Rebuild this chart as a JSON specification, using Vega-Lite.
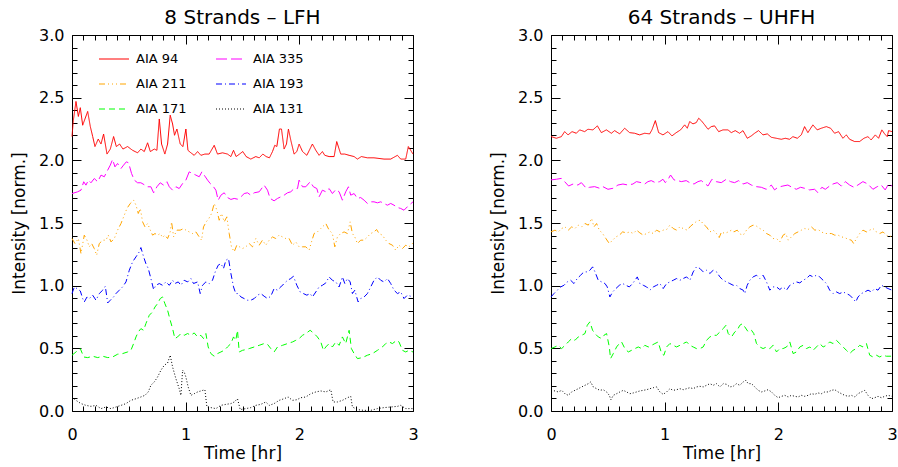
{
"$schema":"https://vega.github.io/schema/vega-lite/v6.json",
"background":"white",
"padding":{"left":10,"top":7,"right":4,"bottom":2},
"spacing":70,
"config":{"view":{"stroke":"black","strokeWidth":1},"font":"DejaVu Sans",
"title":{"fontSize":20,"fontWeight":"normal","color":"black","offset":-1,"anchor":"middle"},
"axis":{"domain":false,"grid":false,"tickColor":"black","tickWidth":1,"labelColor":"black","titleColor":"black","labelFontSize":16,"titleFontSize":17,"titleFontWeight":"normal","labelOverlap":false,"labelFlush":false}},
"datasets":{
"L":[
{"s":"AIA 94","t":0,"v":2.19},{"s":"AIA 94","t":0.012,"v":2.32},{"s":"AIA 94","t":0.035,"v":2.47},{"s":"AIA 94","t":0.056,"v":2.35},{"s":"AIA 94","t":0.073,"v":2.42},{"s":"AIA 94","t":0.094,"v":2.28},{"s":"AIA 94","t":0.114,"v":2.33},{"s":"AIA 94","t":0.138,"v":2.39},{"s":"AIA 94","t":0.161,"v":2.27},{"s":"AIA 94","t":0.182,"v":2.19},{"s":"AIA 94","t":0.202,"v":2.11},{"s":"AIA 94","t":0.231,"v":2.17},{"s":"AIA 94","t":0.255,"v":2.13},{"s":"AIA 94","t":0.278,"v":2.21},{"s":"AIA 94","t":0.308,"v":2.05},{"s":"AIA 94","t":0.337,"v":2.09},{"s":"AIA 94","t":0.366,"v":2.19},{"s":"AIA 94","t":0.39,"v":2.11},{"s":"AIA 94","t":0.419,"v":2.13},{"s":"AIA 94","t":0.448,"v":2.09},{"s":"AIA 94","t":0.489,"v":2.11},{"s":"AIA 94","t":0.533,"v":2.08},{"s":"AIA 94","t":0.577,"v":2.06},{"s":"AIA 94","t":0.606,"v":2.09},{"s":"AIA 94","t":0.636,"v":2.07},{"s":"AIA 94","t":0.665,"v":2.14},{"s":"AIA 94","t":0.689,"v":2.07},{"s":"AIA 94","t":0.724,"v":2.09},{"s":"AIA 94","t":0.747,"v":2.08},{"s":"AIA 94","t":0.768,"v":2.33},{"s":"AIA 94","t":0.788,"v":2.13},{"s":"AIA 94","t":0.817,"v":2.05},{"s":"AIA 94","t":0.841,"v":2.13},{"s":"AIA 94","t":0.864,"v":2.36},{"s":"AIA 94","t":0.885,"v":2.29},{"s":"AIA 94","t":0.902,"v":2.2},{"s":"AIA 94","t":0.923,"v":2.25},{"s":"AIA 94","t":0.952,"v":2.13},{"s":"AIA 94","t":0.976,"v":2.11},{"s":"AIA 94","t":1.002,"v":2.25},{"s":"AIA 94","t":1.02,"v":2.08},{"s":"AIA 94","t":1.046,"v":2.06},{"s":"AIA 94","t":1.075,"v":2.04},{"s":"AIA 94","t":1.105,"v":2.07},{"s":"AIA 94","t":1.134,"v":2.04},{"s":"AIA 94","t":1.169,"v":2.05},{"s":"AIA 94","t":1.207,"v":2.05},{"s":"AIA 94","t":1.251,"v":2.12},{"s":"AIA 94","t":1.28,"v":2.05},{"s":"AIA 94","t":1.324,"v":2.06},{"s":"AIA 94","t":1.368,"v":2.05},{"s":"AIA 94","t":1.398,"v":2.03},{"s":"AIA 94","t":1.421,"v":2.08},{"s":"AIA 94","t":1.444,"v":2.03},{"s":"AIA 94","t":1.474,"v":2.05},{"s":"AIA 94","t":1.503,"v":2.07},{"s":"AIA 94","t":1.532,"v":2.03},{"s":"AIA 94","t":1.573,"v":2.01},{"s":"AIA 94","t":1.617,"v":2.03},{"s":"AIA 94","t":1.647,"v":2.02},{"s":"AIA 94","t":1.679,"v":2.05},{"s":"AIA 94","t":1.708,"v":2.03},{"s":"AIA 94","t":1.737,"v":2.02},{"s":"AIA 94","t":1.764,"v":2.07},{"s":"AIA 94","t":1.784,"v":2.12},{"s":"AIA 94","t":1.802,"v":2.11},{"s":"AIA 94","t":1.825,"v":2.25},{"s":"AIA 94","t":1.843,"v":2.25},{"s":"AIA 94","t":1.866,"v":2.09},{"s":"AIA 94","t":1.887,"v":2.13},{"s":"AIA 94","t":1.904,"v":2.25},{"s":"AIA 94","t":1.925,"v":2.16},{"s":"AIA 94","t":1.954,"v":2.05},{"s":"AIA 94","t":1.978,"v":2.07},{"s":"AIA 94","t":1.998,"v":2.13},{"s":"AIA 94","t":2.028,"v":2.07},{"s":"AIA 94","t":2.066,"v":2.04},{"s":"AIA 94","t":2.115,"v":2.13},{"s":"AIA 94","t":2.145,"v":2.08},{"s":"AIA 94","t":2.174,"v":2.04},{"s":"AIA 94","t":2.203,"v":2.07},{"s":"AIA 94","t":2.224,"v":2.04},{"s":"AIA 94","t":2.262,"v":2.03},{"s":"AIA 94","t":2.306,"v":2.03},{"s":"AIA 94","t":2.329,"v":2.15},{"s":"AIA 94","t":2.364,"v":2.05},{"s":"AIA 94","t":2.4,"v":2.05},{"s":"AIA 94","t":2.438,"v":2.04},{"s":"AIA 94","t":2.482,"v":2.03},{"s":"AIA 94","t":2.511,"v":2.01},{"s":"AIA 94","t":2.546,"v":2.03},{"s":"AIA 94","t":2.599,"v":2.02},{"s":"AIA 94","t":2.657,"v":2.02},{"s":"AIA 94","t":2.745,"v":2.01},{"s":"AIA 94","t":2.804,"v":2.01},{"s":"AIA 94","t":2.863,"v":2.04},{"s":"AIA 94","t":2.892,"v":2.01},{"s":"AIA 94","t":2.936,"v":2.01},{"s":"AIA 94","t":2.959,"v":2.11},{"s":"AIA 94","t":3,"v":2.05},
{"s":"AIA 335","t":0,"v":1.735},{"s":"AIA 335","t":0.05,"v":1.749},{"s":"AIA 335","t":0.079,"v":1.762},{"s":"AIA 335","t":0.103,"v":1.829},{"s":"AIA 335","t":0.123,"v":1.802},{"s":"AIA 335","t":0.144,"v":1.842},{"s":"AIA 335","t":0.167,"v":1.821},{"s":"AIA 335","t":0.196,"v":1.855},{"s":"AIA 335","t":0.226,"v":1.829},{"s":"AIA 335","t":0.255,"v":1.882},{"s":"AIA 335","t":0.284,"v":1.869},{"s":"AIA 335","t":0.314,"v":1.922},{"s":"AIA 335","t":0.337,"v":1.962},{"s":"AIA 335","t":0.357,"v":2.007},{"s":"AIA 335","t":0.378,"v":1.948},{"s":"AIA 335","t":0.401,"v":1.975},{"s":"AIA 335","t":0.431,"v":1.935},{"s":"AIA 335","t":0.454,"v":1.962},{"s":"AIA 335","t":0.478,"v":1.988},{"s":"AIA 335","t":0.498,"v":1.98},{"s":"AIA 335","t":0.524,"v":1.895},{"s":"AIA 335","t":0.548,"v":1.842},{"s":"AIA 335","t":0.577,"v":1.821},{"s":"AIA 335","t":0.606,"v":1.821},{"s":"AIA 335","t":0.642,"v":1.802},{"s":"AIA 335","t":0.665,"v":1.789},{"s":"AIA 335","t":0.694,"v":1.789},{"s":"AIA 335","t":0.718,"v":1.741},{"s":"AIA 335","t":0.747,"v":1.789},{"s":"AIA 335","t":0.776,"v":1.821},{"s":"AIA 335","t":0.806,"v":1.802},{"s":"AIA 335","t":0.835,"v":1.829},{"s":"AIA 335","t":0.856,"v":1.789},{"s":"AIA 335","t":0.885,"v":1.762},{"s":"AIA 335","t":0.914,"v":1.789},{"s":"AIA 335","t":0.943,"v":1.775},{"s":"AIA 335","t":0.973,"v":1.815},{"s":"AIA 335","t":1.002,"v":1.842},{"s":"AIA 335","t":1.031,"v":1.908},{"s":"AIA 335","t":1.061,"v":1.895},{"s":"AIA 335","t":1.09,"v":1.882},{"s":"AIA 335","t":1.119,"v":1.869},{"s":"AIA 335","t":1.143,"v":1.908},{"s":"AIA 335","t":1.169,"v":1.874},{"s":"AIA 335","t":1.193,"v":1.842},{"s":"AIA 335","t":1.216,"v":1.815},{"s":"AIA 335","t":1.245,"v":1.789},{"s":"AIA 335","t":1.266,"v":1.762},{"s":"AIA 335","t":1.286,"v":1.682},{"s":"AIA 335","t":1.31,"v":1.722},{"s":"AIA 335","t":1.339,"v":1.741},{"s":"AIA 335","t":1.368,"v":1.703},{"s":"AIA 335","t":1.398,"v":1.688},{"s":"AIA 335","t":1.427,"v":1.696},{"s":"AIA 335","t":1.456,"v":1.69},{"s":"AIA 335","t":1.486,"v":1.709},{"s":"AIA 335","t":1.515,"v":1.735},{"s":"AIA 335","t":1.544,"v":1.741},{"s":"AIA 335","t":1.573,"v":1.722},{"s":"AIA 335","t":1.603,"v":1.741},{"s":"AIA 335","t":1.647,"v":1.749},{"s":"AIA 335","t":1.69,"v":1.802},{"s":"AIA 335","t":1.72,"v":1.762},{"s":"AIA 335","t":1.743,"v":1.696},{"s":"AIA 335","t":1.778,"v":1.677},{"s":"AIA 335","t":1.808,"v":1.696},{"s":"AIA 335","t":1.837,"v":1.709},{"s":"AIA 335","t":1.866,"v":1.722},{"s":"AIA 335","t":1.896,"v":1.741},{"s":"AIA 335","t":1.925,"v":1.749},{"s":"AIA 335","t":1.954,"v":1.775},{"s":"AIA 335","t":1.984,"v":1.775},{"s":"AIA 335","t":1.998,"v":1.842},{"s":"AIA 335","t":2.028,"v":1.789},{"s":"AIA 335","t":2.057,"v":1.789},{"s":"AIA 335","t":2.095,"v":1.829},{"s":"AIA 335","t":2.124,"v":1.789},{"s":"AIA 335","t":2.154,"v":1.775},{"s":"AIA 335","t":2.174,"v":1.709},{"s":"AIA 335","t":2.203,"v":1.762},{"s":"AIA 335","t":2.233,"v":1.749},{"s":"AIA 335","t":2.262,"v":1.775},{"s":"AIA 335","t":2.291,"v":1.735},{"s":"AIA 335","t":2.321,"v":1.767},{"s":"AIA 335","t":2.35,"v":1.749},{"s":"AIA 335","t":2.379,"v":1.682},{"s":"AIA 335","t":2.408,"v":1.749},{"s":"AIA 335","t":2.432,"v":1.789},{"s":"AIA 335","t":2.452,"v":1.722},{"s":"AIA 335","t":2.482,"v":1.735},{"s":"AIA 335","t":2.511,"v":1.696},{"s":"AIA 335","t":2.54,"v":1.703},{"s":"AIA 335","t":2.57,"v":1.682},{"s":"AIA 335","t":2.599,"v":1.656},{"s":"AIA 335","t":2.628,"v":1.669},{"s":"AIA 335","t":2.657,"v":1.669},{"s":"AIA 335","t":2.687,"v":1.661},{"s":"AIA 335","t":2.716,"v":1.669},{"s":"AIA 335","t":2.745,"v":1.656},{"s":"AIA 335","t":2.775,"v":1.642},{"s":"AIA 335","t":2.804,"v":1.656},{"s":"AIA 335","t":2.833,"v":1.642},{"s":"AIA 335","t":2.863,"v":1.624},{"s":"AIA 335","t":2.892,"v":1.616},{"s":"AIA 335","t":2.921,"v":1.602},{"s":"AIA 335","t":2.95,"v":1.629},{"s":"AIA 335","t":3,"v":1.669},
{"s":"AIA 211","t":0,"v":1.376},{"s":"AIA 211","t":0.026,"v":1.336},{"s":"AIA 211","t":0.056,"v":1.376},{"s":"AIA 211","t":0.079,"v":1.256},{"s":"AIA 211","t":0.108,"v":1.403},{"s":"AIA 211","t":0.132,"v":1.363},{"s":"AIA 211","t":0.152,"v":1.31},{"s":"AIA 211","t":0.173,"v":1.336},{"s":"AIA 211","t":0.196,"v":1.296},{"s":"AIA 211","t":0.217,"v":1.243},{"s":"AIA 211","t":0.24,"v":1.336},{"s":"AIA 211","t":0.27,"v":1.363},{"s":"AIA 211","t":0.299,"v":1.363},{"s":"AIA 211","t":0.319,"v":1.403},{"s":"AIA 211","t":0.343,"v":1.349},{"s":"AIA 211","t":0.372,"v":1.376},{"s":"AIA 211","t":0.401,"v":1.443},{"s":"AIA 211","t":0.431,"v":1.496},{"s":"AIA 211","t":0.46,"v":1.562},{"s":"AIA 211","t":0.483,"v":1.616},{"s":"AIA 211","t":0.513,"v":1.656},{"s":"AIA 211","t":0.542,"v":1.682},{"s":"AIA 211","t":0.563,"v":1.642},{"s":"AIA 211","t":0.583,"v":1.576},{"s":"AIA 211","t":0.601,"v":1.616},{"s":"AIA 211","t":0.621,"v":1.509},{"s":"AIA 211","t":0.642,"v":1.469},{"s":"AIA 211","t":0.665,"v":1.496},{"s":"AIA 211","t":0.689,"v":1.443},{"s":"AIA 211","t":0.709,"v":1.403},{"s":"AIA 211","t":0.73,"v":1.416},{"s":"AIA 211","t":0.753,"v":1.403},{"s":"AIA 211","t":0.776,"v":1.416},{"s":"AIA 211","t":0.797,"v":1.384},{"s":"AIA 211","t":0.817,"v":1.403},{"s":"AIA 211","t":0.841,"v":1.376},{"s":"AIA 211","t":0.864,"v":1.429},{"s":"AIA 211","t":0.876,"v":1.509},{"s":"AIA 211","t":0.894,"v":1.389},{"s":"AIA 211","t":0.923,"v":1.443},{"s":"AIA 211","t":0.952,"v":1.443},{"s":"AIA 211","t":0.982,"v":1.456},{"s":"AIA 211","t":1.002,"v":1.443},{"s":"AIA 211","t":1.031,"v":1.429},{"s":"AIA 211","t":1.061,"v":1.416},{"s":"AIA 211","t":1.09,"v":1.429},{"s":"AIA 211","t":1.119,"v":1.389},{"s":"AIA 211","t":1.14,"v":1.363},{"s":"AIA 211","t":1.157,"v":1.469},{"s":"AIA 211","t":1.181,"v":1.509},{"s":"AIA 211","t":1.204,"v":1.536},{"s":"AIA 211","t":1.228,"v":1.576},{"s":"AIA 211","t":1.251,"v":1.656},{"s":"AIA 211","t":1.275,"v":1.602},{"s":"AIA 211","t":1.295,"v":1.522},{"s":"AIA 211","t":1.316,"v":1.576},{"s":"AIA 211","t":1.339,"v":1.509},{"s":"AIA 211","t":1.362,"v":1.549},{"s":"AIA 211","t":1.383,"v":1.416},{"s":"AIA 211","t":1.403,"v":1.31},{"s":"AIA 211","t":1.427,"v":1.27},{"s":"AIA 211","t":1.45,"v":1.323},{"s":"AIA 211","t":1.474,"v":1.31},{"s":"AIA 211","t":1.5,"v":1.296},{"s":"AIA 211","t":1.529,"v":1.31},{"s":"AIA 211","t":1.559,"v":1.336},{"s":"AIA 211","t":1.588,"v":1.31},{"s":"AIA 211","t":1.617,"v":1.376},{"s":"AIA 211","t":1.647,"v":1.323},{"s":"AIA 211","t":1.676,"v":1.363},{"s":"AIA 211","t":1.705,"v":1.323},{"s":"AIA 211","t":1.735,"v":1.363},{"s":"AIA 211","t":1.764,"v":1.389},{"s":"AIA 211","t":1.793,"v":1.376},{"s":"AIA 211","t":1.822,"v":1.403},{"s":"AIA 211","t":1.852,"v":1.389},{"s":"AIA 211","t":1.881,"v":1.376},{"s":"AIA 211","t":1.91,"v":1.376},{"s":"AIA 211","t":1.94,"v":1.323},{"s":"AIA 211","t":1.969,"v":1.349},{"s":"AIA 211","t":1.998,"v":1.31},{"s":"AIA 211","t":2.028,"v":1.31},{"s":"AIA 211","t":2.057,"v":1.31},{"s":"AIA 211","t":2.086,"v":1.283},{"s":"AIA 211","t":2.107,"v":1.349},{"s":"AIA 211","t":2.13,"v":1.416},{"s":"AIA 211","t":2.159,"v":1.429},{"s":"AIA 211","t":2.189,"v":1.456},{"s":"AIA 211","t":2.233,"v":1.496},{"s":"AIA 211","t":2.262,"v":1.443},{"s":"AIA 211","t":2.291,"v":1.416},{"s":"AIA 211","t":2.312,"v":1.31},{"s":"AIA 211","t":2.335,"v":1.389},{"s":"AIA 211","t":2.364,"v":1.416},{"s":"AIA 211","t":2.394,"v":1.429},{"s":"AIA 211","t":2.423,"v":1.416},{"s":"AIA 211","t":2.447,"v":1.509},{"s":"AIA 211","t":2.467,"v":1.416},{"s":"AIA 211","t":2.488,"v":1.389},{"s":"AIA 211","t":2.511,"v":1.336},{"s":"AIA 211","t":2.54,"v":1.363},{"s":"AIA 211","t":2.57,"v":1.363},{"s":"AIA 211","t":2.599,"v":1.389},{"s":"AIA 211","t":2.628,"v":1.416},{"s":"AIA 211","t":2.657,"v":1.429},{"s":"AIA 211","t":2.68,"v":1.448},{"s":"AIA 211","t":2.701,"v":1.416},{"s":"AIA 211","t":2.731,"v":1.403},{"s":"AIA 211","t":2.76,"v":1.363},{"s":"AIA 211","t":2.789,"v":1.336},{"s":"AIA 211","t":2.819,"v":1.323},{"s":"AIA 211","t":2.848,"v":1.283},{"s":"AIA 211","t":2.877,"v":1.323},{"s":"AIA 211","t":2.907,"v":1.296},{"s":"AIA 211","t":2.936,"v":1.323},{"s":"AIA 211","t":2.965,"v":1.31},{"s":"AIA 211","t":3,"v":1.341},
{"s":"AIA 193","t":0,"v":0.937},{"s":"AIA 193","t":0.021,"v":0.99},{"s":"AIA 193","t":0.044,"v":0.977},{"s":"AIA 193","t":0.073,"v":0.958},{"s":"AIA 193","t":0.094,"v":0.897},{"s":"AIA 193","t":0.108,"v":0.87},{"s":"AIA 193","t":0.132,"v":0.91},{"s":"AIA 193","t":0.152,"v":0.897},{"s":"AIA 193","t":0.182,"v":0.924},{"s":"AIA 193","t":0.211,"v":0.884},{"s":"AIA 193","t":0.24,"v":0.937},{"s":"AIA 193","t":0.27,"v":0.964},{"s":"AIA 193","t":0.293,"v":0.995},{"s":"AIA 193","t":0.314,"v":0.862},{"s":"AIA 193","t":0.337,"v":0.884},{"s":"AIA 193","t":0.366,"v":0.91},{"s":"AIA 193","t":0.387,"v":0.937},{"s":"AIA 193","t":0.416,"v":0.964},{"s":"AIA 193","t":0.445,"v":0.99},{"s":"AIA 193","t":0.475,"v":1.03},{"s":"AIA 193","t":0.504,"v":1.123},{"s":"AIA 193","t":0.533,"v":1.19},{"s":"AIA 193","t":0.563,"v":1.23},{"s":"AIA 193","t":0.592,"v":1.27},{"s":"AIA 193","t":0.606,"v":1.304},{"s":"AIA 193","t":0.63,"v":1.23},{"s":"AIA 193","t":0.65,"v":1.176},{"s":"AIA 193","t":0.671,"v":1.137},{"s":"AIA 193","t":0.694,"v":1.057},{"s":"AIA 193","t":0.718,"v":0.969},{"s":"AIA 193","t":0.738,"v":1.003},{"s":"AIA 193","t":0.768,"v":1.017},{"s":"AIA 193","t":0.797,"v":1.003},{"s":"AIA 193","t":0.826,"v":1.03},{"s":"AIA 193","t":0.856,"v":1.003},{"s":"AIA 193","t":0.885,"v":1.043},{"s":"AIA 193","t":0.905,"v":1.017},{"s":"AIA 193","t":0.935,"v":1.03},{"s":"AIA 193","t":0.958,"v":1.003},{"s":"AIA 193","t":0.987,"v":1.043},{"s":"AIA 193","t":1.017,"v":1.03},{"s":"AIA 193","t":1.046,"v":1.057},{"s":"AIA 193","t":1.069,"v":1.017},{"s":"AIA 193","t":1.105,"v":1.03},{"s":"AIA 193","t":1.128,"v":0.937},{"s":"AIA 193","t":1.148,"v":1.003},{"s":"AIA 193","t":1.178,"v":1.03},{"s":"AIA 193","t":1.207,"v":1.017},{"s":"AIA 193","t":1.236,"v":1.043},{"s":"AIA 193","t":1.26,"v":1.11},{"s":"AIA 193","t":1.286,"v":1.163},{"s":"AIA 193","t":1.31,"v":1.176},{"s":"AIA 193","t":1.333,"v":1.137},{"s":"AIA 193","t":1.354,"v":1.203},{"s":"AIA 193","t":1.377,"v":1.216},{"s":"AIA 193","t":1.398,"v":1.097},{"s":"AIA 193","t":1.421,"v":0.99},{"s":"AIA 193","t":1.441,"v":0.937},{"s":"AIA 193","t":1.462,"v":0.937},{"s":"AIA 193","t":1.486,"v":0.91},{"s":"AIA 193","t":1.515,"v":0.897},{"s":"AIA 193","t":1.544,"v":0.884},{"s":"AIA 193","t":1.573,"v":0.884},{"s":"AIA 193","t":1.603,"v":0.897},{"s":"AIA 193","t":1.632,"v":0.924},{"s":"AIA 193","t":1.661,"v":0.937},{"s":"AIA 193","t":1.69,"v":0.916},{"s":"AIA 193","t":1.72,"v":0.897},{"s":"AIA 193","t":1.749,"v":0.916},{"s":"AIA 193","t":1.778,"v":0.977},{"s":"AIA 193","t":1.808,"v":0.964},{"s":"AIA 193","t":1.837,"v":0.99},{"s":"AIA 193","t":1.866,"v":1.017},{"s":"AIA 193","t":1.896,"v":1.043},{"s":"AIA 193","t":1.925,"v":1.057},{"s":"AIA 193","t":1.948,"v":1.075},{"s":"AIA 193","t":1.978,"v":1.003},{"s":"AIA 193","t":2.007,"v":0.95},{"s":"AIA 193","t":2.036,"v":0.937},{"s":"AIA 193","t":2.066,"v":0.924},{"s":"AIA 193","t":2.095,"v":0.937},{"s":"AIA 193","t":2.115,"v":0.91},{"s":"AIA 193","t":2.145,"v":0.95},{"s":"AIA 193","t":2.174,"v":0.99},{"s":"AIA 193","t":2.203,"v":1.003},{"s":"AIA 193","t":2.233,"v":1.022},{"s":"AIA 193","t":2.262,"v":1.07},{"s":"AIA 193","t":2.291,"v":1.043},{"s":"AIA 193","t":2.321,"v":1.03},{"s":"AIA 193","t":2.35,"v":0.99},{"s":"AIA 193","t":2.379,"v":1.07},{"s":"AIA 193","t":2.4,"v":1.017},{"s":"AIA 193","t":2.423,"v":1.057},{"s":"AIA 193","t":2.447,"v":1.03},{"s":"AIA 193","t":2.467,"v":0.937},{"s":"AIA 193","t":2.488,"v":0.964},{"s":"AIA 193","t":2.517,"v":0.87},{"s":"AIA 193","t":2.54,"v":0.897},{"s":"AIA 193","t":2.57,"v":0.91},{"s":"AIA 193","t":2.599,"v":0.937},{"s":"AIA 193","t":2.628,"v":0.99},{"s":"AIA 193","t":2.657,"v":1.043},{"s":"AIA 193","t":2.687,"v":1.07},{"s":"AIA 193","t":2.716,"v":1.043},{"s":"AIA 193","t":2.745,"v":1.03},{"s":"AIA 193","t":2.775,"v":1.057},{"s":"AIA 193","t":2.804,"v":1.017},{"s":"AIA 193","t":2.833,"v":0.964},{"s":"AIA 193","t":2.863,"v":0.937},{"s":"AIA 193","t":2.892,"v":0.95},{"s":"AIA 193","t":2.921,"v":0.897},{"s":"AIA 193","t":2.95,"v":0.924},{"s":"AIA 193","t":3,"v":0.91},
{"s":"AIA 171","t":0,"v":0.445},{"s":"AIA 171","t":0.035,"v":0.471},{"s":"AIA 171","t":0.073,"v":0.498},{"s":"AIA 171","t":0.103,"v":0.431},{"s":"AIA 171","t":0.138,"v":0.426},{"s":"AIA 171","t":0.182,"v":0.437},{"s":"AIA 171","t":0.226,"v":0.426},{"s":"AIA 171","t":0.27,"v":0.437},{"s":"AIA 171","t":0.314,"v":0.426},{"s":"AIA 171","t":0.357,"v":0.431},{"s":"AIA 171","t":0.401,"v":0.453},{"s":"AIA 171","t":0.445,"v":0.458},{"s":"AIA 171","t":0.489,"v":0.471},{"s":"AIA 171","t":0.518,"v":0.484},{"s":"AIA 171","t":0.542,"v":0.538},{"s":"AIA 171","t":0.563,"v":0.591},{"s":"AIA 171","t":0.583,"v":0.631},{"s":"AIA 171","t":0.606,"v":0.657},{"s":"AIA 171","t":0.63,"v":0.644},{"s":"AIA 171","t":0.65,"v":0.697},{"s":"AIA 171","t":0.68,"v":0.764},{"s":"AIA 171","t":0.709,"v":0.791},{"s":"AIA 171","t":0.73,"v":0.83},{"s":"AIA 171","t":0.753,"v":0.857},{"s":"AIA 171","t":0.776,"v":0.897},{"s":"AIA 171","t":0.797,"v":0.91},{"s":"AIA 171","t":0.817,"v":0.857},{"s":"AIA 171","t":0.841,"v":0.804},{"s":"AIA 171","t":0.864,"v":0.724},{"s":"AIA 171","t":0.885,"v":0.657},{"s":"AIA 171","t":0.905,"v":0.578},{"s":"AIA 171","t":0.929,"v":0.591},{"s":"AIA 171","t":0.958,"v":0.618},{"s":"AIA 171","t":0.987,"v":0.604},{"s":"AIA 171","t":1.017,"v":0.618},{"s":"AIA 171","t":1.046,"v":0.604},{"s":"AIA 171","t":1.075,"v":0.623},{"s":"AIA 171","t":1.105,"v":0.591},{"s":"AIA 171","t":1.134,"v":0.604},{"s":"AIA 171","t":1.157,"v":0.578},{"s":"AIA 171","t":1.178,"v":0.618},{"s":"AIA 171","t":1.198,"v":0.511},{"s":"AIA 171","t":1.222,"v":0.458},{"s":"AIA 171","t":1.251,"v":0.437},{"s":"AIA 171","t":1.28,"v":0.458},{"s":"AIA 171","t":1.31,"v":0.471},{"s":"AIA 171","t":1.339,"v":0.484},{"s":"AIA 171","t":1.368,"v":0.511},{"s":"AIA 171","t":1.398,"v":0.538},{"s":"AIA 171","t":1.421,"v":0.591},{"s":"AIA 171","t":1.441,"v":0.564},{"s":"AIA 171","t":1.456,"v":0.644},{"s":"AIA 171","t":1.471,"v":0.471},{"s":"AIA 171","t":1.5,"v":0.484},{"s":"AIA 171","t":1.529,"v":0.49},{"s":"AIA 171","t":1.559,"v":0.498},{"s":"AIA 171","t":1.603,"v":0.511},{"s":"AIA 171","t":1.647,"v":0.524},{"s":"AIA 171","t":1.69,"v":0.538},{"s":"AIA 171","t":1.72,"v":0.532},{"s":"AIA 171","t":1.749,"v":0.498},{"s":"AIA 171","t":1.778,"v":0.471},{"s":"AIA 171","t":1.808,"v":0.511},{"s":"AIA 171","t":1.852,"v":0.524},{"s":"AIA 171","t":1.896,"v":0.538},{"s":"AIA 171","t":1.94,"v":0.551},{"s":"AIA 171","t":1.969,"v":0.564},{"s":"AIA 171","t":1.998,"v":0.578},{"s":"AIA 171","t":2.028,"v":0.604},{"s":"AIA 171","t":2.057,"v":0.618},{"s":"AIA 171","t":2.095,"v":0.644},{"s":"AIA 171","t":2.13,"v":0.618},{"s":"AIA 171","t":2.159,"v":0.591},{"s":"AIA 171","t":2.189,"v":0.551},{"s":"AIA 171","t":2.212,"v":0.484},{"s":"AIA 171","t":2.233,"v":0.511},{"s":"AIA 171","t":2.262,"v":0.538},{"s":"AIA 171","t":2.291,"v":0.511},{"s":"AIA 171","t":2.321,"v":0.551},{"s":"AIA 171","t":2.35,"v":0.524},{"s":"AIA 171","t":2.379,"v":0.591},{"s":"AIA 171","t":2.408,"v":0.538},{"s":"AIA 171","t":2.438,"v":0.644},{"s":"AIA 171","t":2.458,"v":0.498},{"s":"AIA 171","t":2.482,"v":0.458},{"s":"AIA 171","t":2.511,"v":0.418},{"s":"AIA 171","t":2.555,"v":0.426},{"s":"AIA 171","t":2.599,"v":0.445},{"s":"AIA 171","t":2.643,"v":0.458},{"s":"AIA 171","t":2.687,"v":0.484},{"s":"AIA 171","t":2.731,"v":0.511},{"s":"AIA 171","t":2.76,"v":0.538},{"s":"AIA 171","t":2.789,"v":0.551},{"s":"AIA 171","t":2.819,"v":0.538},{"s":"AIA 171","t":2.857,"v":0.564},{"s":"AIA 171","t":2.877,"v":0.551},{"s":"AIA 171","t":2.907,"v":0.484},{"s":"AIA 171","t":2.936,"v":0.471},{"s":"AIA 171","t":2.965,"v":0.484},{"s":"AIA 171","t":3,"v":0.471},
{"s":"AIA 131","t":0,"v":0.112},{"s":"AIA 131","t":0.035,"v":0.085},{"s":"AIA 131","t":0.079,"v":0.059},{"s":"AIA 131","t":0.123,"v":0.045},{"s":"AIA 131","t":0.167,"v":0.037},{"s":"AIA 131","t":0.211,"v":0.045},{"s":"AIA 131","t":0.255,"v":0.019},{"s":"AIA 131","t":0.299,"v":0.032},{"s":"AIA 131","t":0.343,"v":0.019},{"s":"AIA 131","t":0.387,"v":0.032},{"s":"AIA 131","t":0.431,"v":0.045},{"s":"AIA 131","t":0.475,"v":0.059},{"s":"AIA 131","t":0.518,"v":0.085},{"s":"AIA 131","t":0.563,"v":0.098},{"s":"AIA 131","t":0.606,"v":0.112},{"s":"AIA 131","t":0.642,"v":0.125},{"s":"AIA 131","t":0.671,"v":0.152},{"s":"AIA 131","t":0.694,"v":0.205},{"s":"AIA 131","t":0.724,"v":0.232},{"s":"AIA 131","t":0.753,"v":0.271},{"s":"AIA 131","t":0.782,"v":0.325},{"s":"AIA 131","t":0.812,"v":0.365},{"s":"AIA 131","t":0.841,"v":0.383},{"s":"AIA 131","t":0.864,"v":0.445},{"s":"AIA 131","t":0.885,"v":0.351},{"s":"AIA 131","t":0.914,"v":0.258},{"s":"AIA 131","t":0.943,"v":0.178},{"s":"AIA 131","t":0.958,"v":0.125},{"s":"AIA 131","t":0.973,"v":0.325},{"s":"AIA 131","t":0.987,"v":0.311},{"s":"AIA 131","t":1.002,"v":0.271},{"s":"AIA 131","t":1.022,"v":0.192},{"s":"AIA 131","t":1.046,"v":0.125},{"s":"AIA 131","t":1.075,"v":0.138},{"s":"AIA 131","t":1.105,"v":0.152},{"s":"AIA 131","t":1.134,"v":0.16},{"s":"AIA 131","t":1.169,"v":0.17},{"s":"AIA 131","t":1.187,"v":0.032},{"s":"AIA 131","t":1.222,"v":0.027},{"s":"AIA 131","t":1.266,"v":0.019},{"s":"AIA 131","t":1.31,"v":0.045},{"s":"AIA 131","t":1.354,"v":0.053},{"s":"AIA 131","t":1.398,"v":0.059},{"s":"AIA 131","t":1.427,"v":0.072},{"s":"AIA 131","t":1.456,"v":0.098},{"s":"AIA 131","t":1.48,"v":0.011},{"s":"AIA 131","t":1.529,"v":0.019},{"s":"AIA 131","t":1.573,"v":0.027},{"s":"AIA 131","t":1.617,"v":0.045},{"s":"AIA 131","t":1.661,"v":0.053},{"s":"AIA 131","t":1.705,"v":0.072},{"s":"AIA 131","t":1.735,"v":0.045},{"s":"AIA 131","t":1.778,"v":0.059},{"s":"AIA 131","t":1.822,"v":0.085},{"s":"AIA 131","t":1.866,"v":0.098},{"s":"AIA 131","t":1.901,"v":0.112},{"s":"AIA 131","t":1.94,"v":0.085},{"s":"AIA 131","t":1.978,"v":0.09},{"s":"AIA 131","t":2.013,"v":0.106},{"s":"AIA 131","t":2.057,"v":0.112},{"s":"AIA 131","t":2.101,"v":0.138},{"s":"AIA 131","t":2.145,"v":0.152},{"s":"AIA 131","t":2.189,"v":0.16},{"s":"AIA 131","t":2.233,"v":0.152},{"s":"AIA 131","t":2.277,"v":0.17},{"s":"AIA 131","t":2.297,"v":0.072},{"s":"AIA 131","t":2.335,"v":0.072},{"s":"AIA 131","t":2.379,"v":0.085},{"s":"AIA 131","t":2.423,"v":0.106},{"s":"AIA 131","t":2.452,"v":0.117},{"s":"AIA 131","t":2.467,"v":0.032},{"s":"AIA 131","t":2.511,"v":0.011},{"s":"AIA 131","t":2.57,"v":0.005},{"s":"AIA 131","t":2.628,"v":0.005},{"s":"AIA 131","t":2.687,"v":0.019},{"s":"AIA 131","t":2.745,"v":0.027},{"s":"AIA 131","t":2.804,"v":0.032},{"s":"AIA 131","t":2.863,"v":0.037},{"s":"AIA 131","t":2.892,"v":0.045},{"s":"AIA 131","t":2.936,"v":0.019},{"s":"AIA 131","t":3,"v":0.019}
],
"R":[
{"s":"AIA 94","t":0,"v":2.19},{"s":"AIA 94","t":0.047,"v":2.176},{"s":"AIA 94","t":0.091,"v":2.189},{"s":"AIA 94","t":0.12,"v":2.229},{"s":"AIA 94","t":0.15,"v":2.203},{"s":"AIA 94","t":0.185,"v":2.229},{"s":"AIA 94","t":0.223,"v":2.216},{"s":"AIA 94","t":0.252,"v":2.243},{"s":"AIA 94","t":0.296,"v":2.229},{"s":"AIA 94","t":0.325,"v":2.248},{"s":"AIA 94","t":0.369,"v":2.243},{"s":"AIA 94","t":0.408,"v":2.275},{"s":"AIA 94","t":0.443,"v":2.221},{"s":"AIA 94","t":0.487,"v":2.243},{"s":"AIA 94","t":0.531,"v":2.216},{"s":"AIA 94","t":0.56,"v":2.237},{"s":"AIA 94","t":0.604,"v":2.211},{"s":"AIA 94","t":0.648,"v":2.256},{"s":"AIA 94","t":0.692,"v":2.221},{"s":"AIA 94","t":0.736,"v":2.216},{"s":"AIA 94","t":0.78,"v":2.203},{"s":"AIA 94","t":0.824,"v":2.216},{"s":"AIA 94","t":0.868,"v":2.211},{"s":"AIA 94","t":0.888,"v":2.243},{"s":"AIA 94","t":0.918,"v":2.317},{"s":"AIA 94","t":0.947,"v":2.221},{"s":"AIA 94","t":0.985,"v":2.203},{"s":"AIA 94","t":1.029,"v":2.229},{"s":"AIA 94","t":1.064,"v":2.195},{"s":"AIA 94","t":1.102,"v":2.221},{"s":"AIA 94","t":1.14,"v":2.243},{"s":"AIA 94","t":1.176,"v":2.283},{"s":"AIA 94","t":1.199,"v":2.256},{"s":"AIA 94","t":1.22,"v":2.309},{"s":"AIA 94","t":1.249,"v":2.291},{"s":"AIA 94","t":1.278,"v":2.301},{"s":"AIA 94","t":1.299,"v":2.336},{"s":"AIA 94","t":1.322,"v":2.317},{"s":"AIA 94","t":1.352,"v":2.283},{"s":"AIA 94","t":1.381,"v":2.248},{"s":"AIA 94","t":1.41,"v":2.269},{"s":"AIA 94","t":1.439,"v":2.275},{"s":"AIA 94","t":1.475,"v":2.229},{"s":"AIA 94","t":1.513,"v":2.243},{"s":"AIA 94","t":1.557,"v":2.243},{"s":"AIA 94","t":1.586,"v":2.221},{"s":"AIA 94","t":1.621,"v":2.237},{"s":"AIA 94","t":1.659,"v":2.216},{"s":"AIA 94","t":1.689,"v":2.237},{"s":"AIA 94","t":1.727,"v":2.176},{"s":"AIA 94","t":1.762,"v":2.195},{"s":"AIA 94","t":1.791,"v":2.216},{"s":"AIA 94","t":1.826,"v":2.237},{"s":"AIA 94","t":1.865,"v":2.203},{"s":"AIA 94","t":1.903,"v":2.211},{"s":"AIA 94","t":1.938,"v":2.184},{"s":"AIA 94","t":1.982,"v":2.176},{"s":"AIA 94","t":2.026,"v":2.168},{"s":"AIA 94","t":2.061,"v":2.176},{"s":"AIA 94","t":2.099,"v":2.168},{"s":"AIA 94","t":2.128,"v":2.189},{"s":"AIA 94","t":2.167,"v":2.176},{"s":"AIA 94","t":2.202,"v":2.203},{"s":"AIA 94","t":2.231,"v":2.269},{"s":"AIA 94","t":2.26,"v":2.221},{"s":"AIA 94","t":2.304,"v":2.283},{"s":"AIA 94","t":2.342,"v":2.243},{"s":"AIA 94","t":2.378,"v":2.256},{"s":"AIA 94","t":2.422,"v":2.269},{"s":"AIA 94","t":2.46,"v":2.256},{"s":"AIA 94","t":2.495,"v":2.216},{"s":"AIA 94","t":2.53,"v":2.229},{"s":"AIA 94","t":2.568,"v":2.176},{"s":"AIA 94","t":2.598,"v":2.203},{"s":"AIA 94","t":2.627,"v":2.168},{"s":"AIA 94","t":2.671,"v":2.15},{"s":"AIA 94","t":2.715,"v":2.15},{"s":"AIA 94","t":2.753,"v":2.176},{"s":"AIA 94","t":2.788,"v":2.189},{"s":"AIA 94","t":2.817,"v":2.163},{"s":"AIA 94","t":2.853,"v":2.203},{"s":"AIA 94","t":2.882,"v":2.176},{"s":"AIA 94","t":2.911,"v":2.243},{"s":"AIA 94","t":2.935,"v":2.211},{"s":"AIA 94","t":2.958,"v":2.189},{"s":"AIA 94","t":2.97,"v":2.237},{"s":"AIA 94","t":3,"v":2.229},
{"s":"AIA 335","t":0,"v":1.844},{"s":"AIA 335","t":0.047,"v":1.849},{"s":"AIA 335","t":0.091,"v":1.856},{"s":"AIA 335","t":0.12,"v":1.83},{"s":"AIA 335","t":0.155,"v":1.795},{"s":"AIA 335","t":0.194,"v":1.811},{"s":"AIA 335","t":0.237,"v":1.803},{"s":"AIA 335","t":0.267,"v":1.822},{"s":"AIA 335","t":0.311,"v":1.777},{"s":"AIA 335","t":0.34,"v":1.785},{"s":"AIA 335","t":0.384,"v":1.79},{"s":"AIA 335","t":0.428,"v":1.777},{"s":"AIA 335","t":0.457,"v":1.79},{"s":"AIA 335","t":0.501,"v":1.769},{"s":"AIA 335","t":0.545,"v":1.777},{"s":"AIA 335","t":0.589,"v":1.803},{"s":"AIA 335","t":0.633,"v":1.811},{"s":"AIA 335","t":0.677,"v":1.803},{"s":"AIA 335","t":0.721,"v":1.811},{"s":"AIA 335","t":0.751,"v":1.83},{"s":"AIA 335","t":0.794,"v":1.822},{"s":"AIA 335","t":0.824,"v":1.811},{"s":"AIA 335","t":0.853,"v":1.83},{"s":"AIA 335","t":0.882,"v":1.838},{"s":"AIA 335","t":0.918,"v":1.822},{"s":"AIA 335","t":0.956,"v":1.83},{"s":"AIA 335","t":0.985,"v":1.849},{"s":"AIA 335","t":1.006,"v":1.822},{"s":"AIA 335","t":1.035,"v":1.856},{"s":"AIA 335","t":1.052,"v":1.883},{"s":"AIA 335","t":1.082,"v":1.844},{"s":"AIA 335","t":1.117,"v":1.838},{"s":"AIA 335","t":1.146,"v":1.83},{"s":"AIA 335","t":1.19,"v":1.838},{"s":"AIA 335","t":1.22,"v":1.822},{"s":"AIA 335","t":1.258,"v":1.811},{"s":"AIA 335","t":1.293,"v":1.83},{"s":"AIA 335","t":1.322,"v":1.838},{"s":"AIA 335","t":1.352,"v":1.817},{"s":"AIA 335","t":1.381,"v":1.795},{"s":"AIA 335","t":1.416,"v":1.849},{"s":"AIA 335","t":1.454,"v":1.83},{"s":"AIA 335","t":1.498,"v":1.822},{"s":"AIA 335","t":1.542,"v":1.849},{"s":"AIA 335","t":1.58,"v":1.83},{"s":"AIA 335","t":1.615,"v":1.822},{"s":"AIA 335","t":1.651,"v":1.838},{"s":"AIA 335","t":1.689,"v":1.811},{"s":"AIA 335","t":1.727,"v":1.822},{"s":"AIA 335","t":1.762,"v":1.803},{"s":"AIA 335","t":1.806,"v":1.79},{"s":"AIA 335","t":1.85,"v":1.785},{"s":"AIA 335","t":1.894,"v":1.769},{"s":"AIA 335","t":1.938,"v":1.803},{"s":"AIA 335","t":1.967,"v":1.764},{"s":"AIA 335","t":1.996,"v":1.785},{"s":"AIA 335","t":2.04,"v":1.795},{"s":"AIA 335","t":2.084,"v":1.803},{"s":"AIA 335","t":2.12,"v":1.785},{"s":"AIA 335","t":2.158,"v":1.769},{"s":"AIA 335","t":2.196,"v":1.785},{"s":"AIA 335","t":2.231,"v":1.777},{"s":"AIA 335","t":2.275,"v":1.764},{"s":"AIA 335","t":2.319,"v":1.769},{"s":"AIA 335","t":2.348,"v":1.743},{"s":"AIA 335","t":2.383,"v":1.785},{"s":"AIA 335","t":2.413,"v":1.769},{"s":"AIA 335","t":2.451,"v":1.795},{"s":"AIA 335","t":2.48,"v":1.811},{"s":"AIA 335","t":2.518,"v":1.822},{"s":"AIA 335","t":2.554,"v":1.795},{"s":"AIA 335","t":2.589,"v":1.83},{"s":"AIA 335","t":2.627,"v":1.803},{"s":"AIA 335","t":2.665,"v":1.785},{"s":"AIA 335","t":2.7,"v":1.803},{"s":"AIA 335","t":2.744,"v":1.83},{"s":"AIA 335","t":2.788,"v":1.811},{"s":"AIA 335","t":2.832,"v":1.769},{"s":"AIA 335","t":2.87,"v":1.79},{"s":"AIA 335","t":2.905,"v":1.803},{"s":"AIA 335","t":2.94,"v":1.764},{"s":"AIA 335","t":2.97,"v":1.811},{"s":"AIA 335","t":3,"v":1.795},
{"s":"AIA 211","t":0,"v":1.429},{"s":"AIA 211","t":0.035,"v":1.443},{"s":"AIA 211","t":0.064,"v":1.429},{"s":"AIA 211","t":0.094,"v":1.456},{"s":"AIA 211","t":0.123,"v":1.469},{"s":"AIA 211","t":0.152,"v":1.443},{"s":"AIA 211","t":0.182,"v":1.469},{"s":"AIA 211","t":0.211,"v":1.456},{"s":"AIA 211","t":0.24,"v":1.483},{"s":"AIA 211","t":0.27,"v":1.469},{"s":"AIA 211","t":0.299,"v":1.496},{"s":"AIA 211","t":0.328,"v":1.483},{"s":"AIA 211","t":0.357,"v":1.536},{"s":"AIA 211","t":0.378,"v":1.469},{"s":"AIA 211","t":0.401,"v":1.496},{"s":"AIA 211","t":0.425,"v":1.443},{"s":"AIA 211","t":0.454,"v":1.416},{"s":"AIA 211","t":0.483,"v":1.376},{"s":"AIA 211","t":0.513,"v":1.336},{"s":"AIA 211","t":0.542,"v":1.363},{"s":"AIA 211","t":0.571,"v":1.389},{"s":"AIA 211","t":0.601,"v":1.403},{"s":"AIA 211","t":0.63,"v":1.429},{"s":"AIA 211","t":0.665,"v":1.421},{"s":"AIA 211","t":0.694,"v":1.429},{"s":"AIA 211","t":0.724,"v":1.416},{"s":"AIA 211","t":0.753,"v":1.443},{"s":"AIA 211","t":0.782,"v":1.421},{"s":"AIA 211","t":0.812,"v":1.403},{"s":"AIA 211","t":0.841,"v":1.416},{"s":"AIA 211","t":0.87,"v":1.429},{"s":"AIA 211","t":0.9,"v":1.416},{"s":"AIA 211","t":0.929,"v":1.443},{"s":"AIA 211","t":0.958,"v":1.429},{"s":"AIA 211","t":0.987,"v":1.443},{"s":"AIA 211","t":1.017,"v":1.448},{"s":"AIA 211","t":1.046,"v":1.483},{"s":"AIA 211","t":1.075,"v":1.456},{"s":"AIA 211","t":1.105,"v":1.443},{"s":"AIA 211","t":1.134,"v":1.469},{"s":"AIA 211","t":1.163,"v":1.456},{"s":"AIA 211","t":1.198,"v":1.443},{"s":"AIA 211","t":1.228,"v":1.475},{"s":"AIA 211","t":1.257,"v":1.496},{"s":"AIA 211","t":1.286,"v":1.517},{"s":"AIA 211","t":1.316,"v":1.522},{"s":"AIA 211","t":1.339,"v":1.491},{"s":"AIA 211","t":1.368,"v":1.469},{"s":"AIA 211","t":1.398,"v":1.429},{"s":"AIA 211","t":1.427,"v":1.443},{"s":"AIA 211","t":1.456,"v":1.416},{"s":"AIA 211","t":1.48,"v":1.384},{"s":"AIA 211","t":1.5,"v":1.429},{"s":"AIA 211","t":1.529,"v":1.416},{"s":"AIA 211","t":1.559,"v":1.429},{"s":"AIA 211","t":1.588,"v":1.443},{"s":"AIA 211","t":1.609,"v":1.429},{"s":"AIA 211","t":1.638,"v":1.443},{"s":"AIA 211","t":1.667,"v":1.411},{"s":"AIA 211","t":1.691,"v":1.403},{"s":"AIA 211","t":1.72,"v":1.443},{"s":"AIA 211","t":1.749,"v":1.469},{"s":"AIA 211","t":1.778,"v":1.483},{"s":"AIA 211","t":1.808,"v":1.475},{"s":"AIA 211","t":1.837,"v":1.456},{"s":"AIA 211","t":1.866,"v":1.443},{"s":"AIA 211","t":1.896,"v":1.416},{"s":"AIA 211","t":1.925,"v":1.403},{"s":"AIA 211","t":1.954,"v":1.376},{"s":"AIA 211","t":1.984,"v":1.376},{"s":"AIA 211","t":2.013,"v":1.35},{"s":"AIA 211","t":2.042,"v":1.403},{"s":"AIA 211","t":2.066,"v":1.416},{"s":"AIA 211","t":2.086,"v":1.363},{"s":"AIA 211","t":2.115,"v":1.389},{"s":"AIA 211","t":2.145,"v":1.416},{"s":"AIA 211","t":2.174,"v":1.429},{"s":"AIA 211","t":2.203,"v":1.443},{"s":"AIA 211","t":2.233,"v":1.456},{"s":"AIA 211","t":2.262,"v":1.448},{"s":"AIA 211","t":2.291,"v":1.469},{"s":"AIA 211","t":2.321,"v":1.443},{"s":"AIA 211","t":2.35,"v":1.448},{"s":"AIA 211","t":2.379,"v":1.429},{"s":"AIA 211","t":2.408,"v":1.416},{"s":"AIA 211","t":2.438,"v":1.416},{"s":"AIA 211","t":2.467,"v":1.416},{"s":"AIA 211","t":2.496,"v":1.403},{"s":"AIA 211","t":2.526,"v":1.403},{"s":"AIA 211","t":2.555,"v":1.389},{"s":"AIA 211","t":2.584,"v":1.384},{"s":"AIA 211","t":2.614,"v":1.37},{"s":"AIA 211","t":2.643,"v":1.363},{"s":"AIA 211","t":2.663,"v":1.336},{"s":"AIA 211","t":2.687,"v":1.376},{"s":"AIA 211","t":2.716,"v":1.416},{"s":"AIA 211","t":2.745,"v":1.443},{"s":"AIA 211","t":2.775,"v":1.429},{"s":"AIA 211","t":2.804,"v":1.443},{"s":"AIA 211","t":2.833,"v":1.456},{"s":"AIA 211","t":2.863,"v":1.429},{"s":"AIA 211","t":2.892,"v":1.416},{"s":"AIA 211","t":2.921,"v":1.429},{"s":"AIA 211","t":2.95,"v":1.403},{"s":"AIA 211","t":2.98,"v":1.389},{"s":"AIA 211","t":3,"v":1.403},
{"s":"AIA 193","t":0,"v":0.91},{"s":"AIA 193","t":0.026,"v":0.937},{"s":"AIA 193","t":0.056,"v":0.964},{"s":"AIA 193","t":0.085,"v":0.99},{"s":"AIA 193","t":0.114,"v":1.003},{"s":"AIA 193","t":0.143,"v":1.03},{"s":"AIA 193","t":0.173,"v":1.043},{"s":"AIA 193","t":0.202,"v":1.017},{"s":"AIA 193","t":0.231,"v":1.057},{"s":"AIA 193","t":0.26,"v":1.083},{"s":"AIA 193","t":0.29,"v":1.11},{"s":"AIA 193","t":0.319,"v":1.11},{"s":"AIA 193","t":0.342,"v":1.123},{"s":"AIA 193","t":0.366,"v":1.15},{"s":"AIA 193","t":0.387,"v":1.11},{"s":"AIA 193","t":0.416,"v":1.043},{"s":"AIA 193","t":0.445,"v":1.03},{"s":"AIA 193","t":0.475,"v":1.017},{"s":"AIA 193","t":0.495,"v":0.99},{"s":"AIA 193","t":0.518,"v":0.91},{"s":"AIA 193","t":0.542,"v":0.95},{"s":"AIA 193","t":0.571,"v":0.977},{"s":"AIA 193","t":0.601,"v":1.003},{"s":"AIA 193","t":0.63,"v":1.017},{"s":"AIA 193","t":0.659,"v":1.003},{"s":"AIA 193","t":0.689,"v":0.99},{"s":"AIA 193","t":0.718,"v":1.017},{"s":"AIA 193","t":0.739,"v":1.043},{"s":"AIA 193","t":0.759,"v":1.07},{"s":"AIA 193","t":0.782,"v":1.017},{"s":"AIA 193","t":0.812,"v":1.003},{"s":"AIA 193","t":0.841,"v":0.99},{"s":"AIA 193","t":0.87,"v":0.964},{"s":"AIA 193","t":0.9,"v":0.99},{"s":"AIA 193","t":0.929,"v":1.003},{"s":"AIA 193","t":0.958,"v":1.017},{"s":"AIA 193","t":0.987,"v":0.977},{"s":"AIA 193","t":1.017,"v":1.017},{"s":"AIA 193","t":1.046,"v":1.03},{"s":"AIA 193","t":1.075,"v":1.043},{"s":"AIA 193","t":1.105,"v":1.057},{"s":"AIA 193","t":1.134,"v":1.043},{"s":"AIA 193","t":1.163,"v":1.057},{"s":"AIA 193","t":1.193,"v":1.07},{"s":"AIA 193","t":1.222,"v":1.043},{"s":"AIA 193","t":1.251,"v":1.11},{"s":"AIA 193","t":1.28,"v":1.15},{"s":"AIA 193","t":1.31,"v":1.137},{"s":"AIA 193","t":1.339,"v":1.11},{"s":"AIA 193","t":1.368,"v":1.123},{"s":"AIA 193","t":1.398,"v":1.097},{"s":"AIA 193","t":1.427,"v":1.123},{"s":"AIA 193","t":1.456,"v":1.11},{"s":"AIA 193","t":1.486,"v":1.07},{"s":"AIA 193","t":1.515,"v":1.043},{"s":"AIA 193","t":1.544,"v":1.03},{"s":"AIA 193","t":1.573,"v":1.017},{"s":"AIA 193","t":1.603,"v":1.003},{"s":"AIA 193","t":1.632,"v":1.003},{"s":"AIA 193","t":1.661,"v":0.977},{"s":"AIA 193","t":1.691,"v":0.964},{"s":"AIA 193","t":1.705,"v":0.937},{"s":"AIA 193","t":1.726,"v":1.003},{"s":"AIA 193","t":1.749,"v":1.043},{"s":"AIA 193","t":1.778,"v":1.07},{"s":"AIA 193","t":1.808,"v":1.083},{"s":"AIA 193","t":1.837,"v":1.057},{"s":"AIA 193","t":1.866,"v":1.083},{"s":"AIA 193","t":1.896,"v":1.03},{"s":"AIA 193","t":1.925,"v":0.964},{"s":"AIA 193","t":1.954,"v":0.99},{"s":"AIA 193","t":1.984,"v":0.99},{"s":"AIA 193","t":2.013,"v":0.969},{"s":"AIA 193","t":2.042,"v":0.99},{"s":"AIA 193","t":2.072,"v":0.964},{"s":"AIA 193","t":2.101,"v":1.003},{"s":"AIA 193","t":2.13,"v":1.017},{"s":"AIA 193","t":2.159,"v":1.03},{"s":"AIA 193","t":2.189,"v":1.022},{"s":"AIA 193","t":2.218,"v":1.043},{"s":"AIA 193","t":2.247,"v":1.057},{"s":"AIA 193","t":2.277,"v":1.083},{"s":"AIA 193","t":2.306,"v":1.07},{"s":"AIA 193","t":2.335,"v":1.083},{"s":"AIA 193","t":2.364,"v":1.07},{"s":"AIA 193","t":2.394,"v":1.043},{"s":"AIA 193","t":2.423,"v":1.017},{"s":"AIA 193","t":2.452,"v":0.964},{"s":"AIA 193","t":2.482,"v":0.937},{"s":"AIA 193","t":2.511,"v":0.95},{"s":"AIA 193","t":2.54,"v":0.937},{"s":"AIA 193","t":2.57,"v":0.95},{"s":"AIA 193","t":2.599,"v":0.937},{"s":"AIA 193","t":2.628,"v":0.924},{"s":"AIA 193","t":2.657,"v":0.897},{"s":"AIA 193","t":2.681,"v":0.87},{"s":"AIA 193","t":2.701,"v":0.91},{"s":"AIA 193","t":2.731,"v":0.937},{"s":"AIA 193","t":2.76,"v":0.95},{"s":"AIA 193","t":2.789,"v":0.964},{"s":"AIA 193","t":2.819,"v":0.95},{"s":"AIA 193","t":2.848,"v":0.977},{"s":"AIA 193","t":2.877,"v":0.964},{"s":"AIA 193","t":2.907,"v":1.003},{"s":"AIA 193","t":2.936,"v":0.99},{"s":"AIA 193","t":2.965,"v":0.977},{"s":"AIA 193","t":3,"v":0.964},
{"s":"AIA 171","t":0,"v":0.498},{"s":"AIA 171","t":0.035,"v":0.511},{"s":"AIA 171","t":0.064,"v":0.524},{"s":"AIA 171","t":0.094,"v":0.498},{"s":"AIA 171","t":0.123,"v":0.524},{"s":"AIA 171","t":0.152,"v":0.551},{"s":"AIA 171","t":0.182,"v":0.578},{"s":"AIA 171","t":0.211,"v":0.564},{"s":"AIA 171","t":0.24,"v":0.591},{"s":"AIA 171","t":0.27,"v":0.604},{"s":"AIA 171","t":0.299,"v":0.618},{"s":"AIA 171","t":0.319,"v":0.684},{"s":"AIA 171","t":0.342,"v":0.711},{"s":"AIA 171","t":0.366,"v":0.644},{"s":"AIA 171","t":0.387,"v":0.618},{"s":"AIA 171","t":0.416,"v":0.591},{"s":"AIA 171","t":0.445,"v":0.578},{"s":"AIA 171","t":0.466,"v":0.604},{"s":"AIA 171","t":0.489,"v":0.618},{"s":"AIA 171","t":0.513,"v":0.511},{"s":"AIA 171","t":0.524,"v":0.418},{"s":"AIA 171","t":0.548,"v":0.458},{"s":"AIA 171","t":0.577,"v":0.511},{"s":"AIA 171","t":0.601,"v":0.538},{"s":"AIA 171","t":0.621,"v":0.551},{"s":"AIA 171","t":0.65,"v":0.498},{"s":"AIA 171","t":0.68,"v":0.471},{"s":"AIA 171","t":0.709,"v":0.484},{"s":"AIA 171","t":0.738,"v":0.498},{"s":"AIA 171","t":0.768,"v":0.511},{"s":"AIA 171","t":0.797,"v":0.498},{"s":"AIA 171","t":0.826,"v":0.524},{"s":"AIA 171","t":0.856,"v":0.511},{"s":"AIA 171","t":0.885,"v":0.524},{"s":"AIA 171","t":0.914,"v":0.538},{"s":"AIA 171","t":0.943,"v":0.551},{"s":"AIA 171","t":0.973,"v":0.458},{"s":"AIA 171","t":0.993,"v":0.445},{"s":"AIA 171","t":1.017,"v":0.511},{"s":"AIA 171","t":1.046,"v":0.538},{"s":"AIA 171","t":1.075,"v":0.524},{"s":"AIA 171","t":1.105,"v":0.511},{"s":"AIA 171","t":1.134,"v":0.524},{"s":"AIA 171","t":1.163,"v":0.538},{"s":"AIA 171","t":1.193,"v":0.551},{"s":"AIA 171","t":1.222,"v":0.524},{"s":"AIA 171","t":1.251,"v":0.511},{"s":"AIA 171","t":1.28,"v":0.498},{"s":"AIA 171","t":1.31,"v":0.498},{"s":"AIA 171","t":1.339,"v":0.511},{"s":"AIA 171","t":1.368,"v":0.564},{"s":"AIA 171","t":1.398,"v":0.591},{"s":"AIA 171","t":1.427,"v":0.604},{"s":"AIA 171","t":1.456,"v":0.604},{"s":"AIA 171","t":1.486,"v":0.631},{"s":"AIA 171","t":1.515,"v":0.657},{"s":"AIA 171","t":1.539,"v":0.684},{"s":"AIA 171","t":1.559,"v":0.618},{"s":"AIA 171","t":1.588,"v":0.591},{"s":"AIA 171","t":1.617,"v":0.631},{"s":"AIA 171","t":1.638,"v":0.644},{"s":"AIA 171","t":1.661,"v":0.684},{"s":"AIA 171","t":1.685,"v":0.697},{"s":"AIA 171","t":1.705,"v":0.671},{"s":"AIA 171","t":1.735,"v":0.631},{"s":"AIA 171","t":1.764,"v":0.644},{"s":"AIA 171","t":1.784,"v":0.618},{"s":"AIA 171","t":1.808,"v":0.538},{"s":"AIA 171","t":1.837,"v":0.511},{"s":"AIA 171","t":1.866,"v":0.498},{"s":"AIA 171","t":1.896,"v":0.511},{"s":"AIA 171","t":1.925,"v":0.498},{"s":"AIA 171","t":1.954,"v":0.524},{"s":"AIA 171","t":1.984,"v":0.471},{"s":"AIA 171","t":2.013,"v":0.498},{"s":"AIA 171","t":2.042,"v":0.498},{"s":"AIA 171","t":2.072,"v":0.511},{"s":"AIA 171","t":2.101,"v":0.551},{"s":"AIA 171","t":2.13,"v":0.458},{"s":"AIA 171","t":2.159,"v":0.471},{"s":"AIA 171","t":2.189,"v":0.511},{"s":"AIA 171","t":2.218,"v":0.524},{"s":"AIA 171","t":2.247,"v":0.498},{"s":"AIA 171","t":2.277,"v":0.511},{"s":"AIA 171","t":2.306,"v":0.484},{"s":"AIA 171","t":2.335,"v":0.511},{"s":"AIA 171","t":2.364,"v":0.538},{"s":"AIA 171","t":2.394,"v":0.511},{"s":"AIA 171","t":2.423,"v":0.524},{"s":"AIA 171","t":2.452,"v":0.551},{"s":"AIA 171","t":2.482,"v":0.538},{"s":"AIA 171","t":2.511,"v":0.564},{"s":"AIA 171","t":2.54,"v":0.538},{"s":"AIA 171","t":2.57,"v":0.511},{"s":"AIA 171","t":2.599,"v":0.484},{"s":"AIA 171","t":2.628,"v":0.458},{"s":"AIA 171","t":2.657,"v":0.484},{"s":"AIA 171","t":2.687,"v":0.498},{"s":"AIA 171","t":2.716,"v":0.524},{"s":"AIA 171","t":2.745,"v":0.511},{"s":"AIA 171","t":2.775,"v":0.538},{"s":"AIA 171","t":2.804,"v":0.445},{"s":"AIA 171","t":2.833,"v":0.431},{"s":"AIA 171","t":2.863,"v":0.445},{"s":"AIA 171","t":2.892,"v":0.431},{"s":"AIA 171","t":2.921,"v":0.445},{"s":"AIA 171","t":2.95,"v":0.437},{"s":"AIA 171","t":3,"v":0.437},
{"s":"AIA 131","t":0,"v":0.165},{"s":"AIA 131","t":0.035,"v":0.16},{"s":"AIA 131","t":0.064,"v":0.152},{"s":"AIA 131","t":0.094,"v":0.165},{"s":"AIA 131","t":0.123,"v":0.138},{"s":"AIA 131","t":0.152,"v":0.125},{"s":"AIA 131","t":0.182,"v":0.152},{"s":"AIA 131","t":0.211,"v":0.165},{"s":"AIA 131","t":0.24,"v":0.178},{"s":"AIA 131","t":0.27,"v":0.192},{"s":"AIA 131","t":0.299,"v":0.205},{"s":"AIA 131","t":0.328,"v":0.218},{"s":"AIA 131","t":0.349,"v":0.232},{"s":"AIA 131","t":0.372,"v":0.192},{"s":"AIA 131","t":0.401,"v":0.178},{"s":"AIA 131","t":0.43,"v":0.165},{"s":"AIA 131","t":0.459,"v":0.17},{"s":"AIA 131","t":0.489,"v":0.152},{"s":"AIA 131","t":0.513,"v":0.125},{"s":"AIA 131","t":0.527,"v":0.09},{"s":"AIA 131","t":0.548,"v":0.125},{"s":"AIA 131","t":0.577,"v":0.138},{"s":"AIA 131","t":0.606,"v":0.152},{"s":"AIA 131","t":0.636,"v":0.165},{"s":"AIA 131","t":0.665,"v":0.152},{"s":"AIA 131","t":0.694,"v":0.138},{"s":"AIA 131","t":0.724,"v":0.144},{"s":"AIA 131","t":0.753,"v":0.152},{"s":"AIA 131","t":0.782,"v":0.16},{"s":"AIA 131","t":0.812,"v":0.165},{"s":"AIA 131","t":0.841,"v":0.17},{"s":"AIA 131","t":0.87,"v":0.178},{"s":"AIA 131","t":0.9,"v":0.186},{"s":"AIA 131","t":0.929,"v":0.192},{"s":"AIA 131","t":0.958,"v":0.152},{"s":"AIA 131","t":0.987,"v":0.133},{"s":"AIA 131","t":1.017,"v":0.152},{"s":"AIA 131","t":1.046,"v":0.178},{"s":"AIA 131","t":1.075,"v":0.165},{"s":"AIA 131","t":1.105,"v":0.17},{"s":"AIA 131","t":1.134,"v":0.178},{"s":"AIA 131","t":1.163,"v":0.17},{"s":"AIA 131","t":1.193,"v":0.178},{"s":"AIA 131","t":1.222,"v":0.186},{"s":"AIA 131","t":1.251,"v":0.178},{"s":"AIA 131","t":1.28,"v":0.192},{"s":"AIA 131","t":1.31,"v":0.197},{"s":"AIA 131","t":1.339,"v":0.192},{"s":"AIA 131","t":1.368,"v":0.205},{"s":"AIA 131","t":1.398,"v":0.218},{"s":"AIA 131","t":1.427,"v":0.205},{"s":"AIA 131","t":1.456,"v":0.218},{"s":"AIA 131","t":1.486,"v":0.192},{"s":"AIA 131","t":1.515,"v":0.218},{"s":"AIA 131","t":1.544,"v":0.213},{"s":"AIA 131","t":1.573,"v":0.192},{"s":"AIA 131","t":1.603,"v":0.197},{"s":"AIA 131","t":1.632,"v":0.218},{"s":"AIA 131","t":1.661,"v":0.205},{"s":"AIA 131","t":1.691,"v":0.232},{"s":"AIA 131","t":1.714,"v":0.245},{"s":"AIA 131","t":1.735,"v":0.218},{"s":"AIA 131","t":1.764,"v":0.218},{"s":"AIA 131","t":1.793,"v":0.192},{"s":"AIA 131","t":1.822,"v":0.165},{"s":"AIA 131","t":1.852,"v":0.152},{"s":"AIA 131","t":1.881,"v":0.16},{"s":"AIA 131","t":1.91,"v":0.17},{"s":"AIA 131","t":1.94,"v":0.152},{"s":"AIA 131","t":1.969,"v":0.125},{"s":"AIA 131","t":1.998,"v":0.106},{"s":"AIA 131","t":2.028,"v":0.117},{"s":"AIA 131","t":2.057,"v":0.125},{"s":"AIA 131","t":2.086,"v":0.112},{"s":"AIA 131","t":2.115,"v":0.125},{"s":"AIA 131","t":2.145,"v":0.117},{"s":"AIA 131","t":2.174,"v":0.112},{"s":"AIA 131","t":2.203,"v":0.125},{"s":"AIA 131","t":2.233,"v":0.117},{"s":"AIA 131","t":2.262,"v":0.125},{"s":"AIA 131","t":2.291,"v":0.138},{"s":"AIA 131","t":2.321,"v":0.133},{"s":"AIA 131","t":2.35,"v":0.144},{"s":"AIA 131","t":2.379,"v":0.138},{"s":"AIA 131","t":2.408,"v":0.152},{"s":"AIA 131","t":2.438,"v":0.152},{"s":"AIA 131","t":2.467,"v":0.165},{"s":"AIA 131","t":2.496,"v":0.17},{"s":"AIA 131","t":2.526,"v":0.152},{"s":"AIA 131","t":2.555,"v":0.138},{"s":"AIA 131","t":2.584,"v":0.125},{"s":"AIA 131","t":2.614,"v":0.117},{"s":"AIA 131","t":2.643,"v":0.125},{"s":"AIA 131","t":2.672,"v":0.112},{"s":"AIA 131","t":2.701,"v":0.138},{"s":"AIA 131","t":2.731,"v":0.152},{"s":"AIA 131","t":2.76,"v":0.165},{"s":"AIA 131","t":2.789,"v":0.125},{"s":"AIA 131","t":2.819,"v":0.098},{"s":"AIA 131","t":2.848,"v":0.106},{"s":"AIA 131","t":2.877,"v":0.117},{"s":"AIA 131","t":2.907,"v":0.106},{"s":"AIA 131","t":2.936,"v":0.117},{"s":"AIA 131","t":2.965,"v":0.125},{"s":"AIA 131","t":3,"v":0.117}
]},
"resolve":{"scale":{"color":"independent","strokeDash":"independent"}},
"hconcat":[
{"width":341,"height":376,"title":"8 Strands – LFH",
"layer":[
{"data":{"name":"L"},"mark":{"type":"line","strokeWidth":1},
"encoding":{
"x":{"field":"t","type":"quantitative","scale":{"domain":[0,3],"nice":false,"zero":false},
"axis":{"orient":"bottom","title":"Time [hr]","values":[0,1,2,3],"format":"d","tickSize":9,"offset":-9,"labelPadding":15,"titlePadding":3}},
"y":{"field":"v","type":"quantitative","scale":{"domain":[0,3],"nice":false,"zero":false},
"axis":{"orient":"left","title":"Intensity [norm.]","values":[0,0.5,1,1.5,2,2.5,3],"format":".1f","tickSize":9,"offset":-9,"labelPadding":8,"titlePadding":10}},
"color":{"field":"s","type":"nominal","scale":{"domain":["AIA 94","AIA 211","AIA 171","AIA 335","AIA 193","AIA 131"],"range":["#ff0000","#ffa500","#00ff00","#ff00ff","#0000ff","#000000"]},
"legend":{"orient":"none","legendX":26,"legendY":8,"columns":2,"title":null,"symbolType":"stroke","symbolSize":900,"symbolStrokeWidth":1.2,"labelFontSize":13,"labelColor":"black","labelOffset":6,"columnPadding":26,"rowPadding":2,"padding":0}},
"strokeDash":{"field":"s","type":"nominal","scale":{"domain":["AIA 94","AIA 211","AIA 171","AIA 335","AIA 193","AIA 131"],"range":[[1,0],[6,3,1,3,1,3,1,3],[6,4],[11,4],[6,3,1,3],[1,2]]},
"legend":{"orient":"none","legendX":26,"legendY":8,"columns":2,"title":null,"symbolType":"stroke","symbolSize":900,"symbolStrokeWidth":1.2,"labelFontSize":13,"labelColor":"black","labelOffset":6,"columnPadding":26,"rowPadding":2,"padding":0}}
}},
{"data":{"name":"L"},"mark":{"type":"rule","opacity":0},
"encoding":{
"x":{"aggregate":"min","field":"t","type":"quantitative","axis":{"orient":"top","title":null,"labels":false,"values":[0,1,2,3],"tickSize":9,"offset":-9}},
"y":{"aggregate":"min","field":"v","type":"quantitative","axis":{"orient":"right","title":null,"labels":false,"values":[0,0.5,1,1.5,2,2.5,3],"tickSize":9,"offset":-9}}
}},
{"data":{"name":"L"},"mark":{"type":"rule","opacity":0},
"encoding":{
"x":{"aggregate":"max","field":"t","type":"quantitative","axis":{"orient":"bottom","title":null,"labels":false,"values":[0.1,0.2,0.3,0.4,0.5,0.6,0.7,0.8,0.9,1.1,1.2,1.3,1.4,1.5,1.6,1.7,1.8,1.9,2.1,2.2,2.3,2.4,2.5,2.6,2.7,2.8,2.9],"tickSize":5,"offset":-5}},
"y":{"aggregate":"max","field":"v","type":"quantitative","axis":{"orient":"left","title":null,"labels":false,"values":[0.1,0.2,0.3,0.4,0.6,0.7,0.8,0.9,1.1,1.2,1.3,1.4,1.6,1.7,1.8,1.9,2.1,2.2,2.3,2.4,2.6,2.7,2.8,2.9],"tickSize":5,"offset":-5}}
}},
{"data":{"name":"L"},"mark":{"type":"rule","opacity":0},
"encoding":{
"x":{"aggregate":"mean","field":"t","type":"quantitative","axis":{"orient":"top","title":null,"labels":false,"values":[0.1,0.2,0.3,0.4,0.5,0.6,0.7,0.8,0.9,1.1,1.2,1.3,1.4,1.5,1.6,1.7,1.8,1.9,2.1,2.2,2.3,2.4,2.5,2.6,2.7,2.8,2.9],"tickSize":5,"offset":-5}},
"y":{"aggregate":"mean","field":"v","type":"quantitative","axis":{"orient":"right","title":null,"labels":false,"values":[0.1,0.2,0.3,0.4,0.6,0.7,0.8,0.9,1.1,1.2,1.3,1.4,1.6,1.7,1.8,1.9,2.1,2.2,2.3,2.4,2.6,2.7,2.8,2.9],"tickSize":5,"offset":-5}}
}}
],
"resolve":{"axis":{"x":"independent","y":"independent"}}
},
{"width":341,"height":376,"title":"64 Strands – UHFH",
"layer":[
{"data":{"name":"R"},"mark":{"type":"line","strokeWidth":1},
"encoding":{
"x":{"field":"t","type":"quantitative","scale":{"domain":[0,3],"nice":false,"zero":false},
"axis":{"orient":"bottom","title":"Time [hr]","values":[0,1,2,3],"format":"d","tickSize":9,"offset":-9,"labelPadding":15,"titlePadding":3}},
"y":{"field":"v","type":"quantitative","scale":{"domain":[0,3],"nice":false,"zero":false},
"axis":{"orient":"left","title":"Intensity [norm.]","values":[0,0.5,1,1.5,2,2.5,3],"format":".1f","tickSize":9,"offset":-9,"labelPadding":8,"titlePadding":10}},
"color":{"field":"s","type":"nominal","scale":{"domain":["AIA 94","AIA 211","AIA 171","AIA 335","AIA 193","AIA 131"],"range":["#ff0000","#ffa500","#00ff00","#ff00ff","#0000ff","#000000"]},"legend":null},
"strokeDash":{"field":"s","type":"nominal","scale":{"domain":["AIA 94","AIA 211","AIA 171","AIA 335","AIA 193","AIA 131"],"range":[[1,0],[6,3,1,3,1,3,1,3],[6,4],[11,4],[6,3,1,3],[1,2]]},"legend":null}
}},
{"data":{"name":"R"},"mark":{"type":"rule","opacity":0},
"encoding":{
"x":{"aggregate":"min","field":"t","type":"quantitative","axis":{"orient":"top","title":null,"labels":false,"values":[0,1,2,3],"tickSize":9,"offset":-9}},
"y":{"aggregate":"min","field":"v","type":"quantitative","axis":{"orient":"right","title":null,"labels":false,"values":[0,0.5,1,1.5,2,2.5,3],"tickSize":9,"offset":-9}}
}},
{"data":{"name":"R"},"mark":{"type":"rule","opacity":0},
"encoding":{
"x":{"aggregate":"max","field":"t","type":"quantitative","axis":{"orient":"bottom","title":null,"labels":false,"values":[0.1,0.2,0.3,0.4,0.5,0.6,0.7,0.8,0.9,1.1,1.2,1.3,1.4,1.5,1.6,1.7,1.8,1.9,2.1,2.2,2.3,2.4,2.5,2.6,2.7,2.8,2.9],"tickSize":5,"offset":-5}},
"y":{"aggregate":"max","field":"v","type":"quantitative","axis":{"orient":"left","title":null,"labels":false,"values":[0.1,0.2,0.3,0.4,0.6,0.7,0.8,0.9,1.1,1.2,1.3,1.4,1.6,1.7,1.8,1.9,2.1,2.2,2.3,2.4,2.6,2.7,2.8,2.9],"tickSize":5,"offset":-5}}
}},
{"data":{"name":"R"},"mark":{"type":"rule","opacity":0},
"encoding":{
"x":{"aggregate":"mean","field":"t","type":"quantitative","axis":{"orient":"top","title":null,"labels":false,"values":[0.1,0.2,0.3,0.4,0.5,0.6,0.7,0.8,0.9,1.1,1.2,1.3,1.4,1.5,1.6,1.7,1.8,1.9,2.1,2.2,2.3,2.4,2.5,2.6,2.7,2.8,2.9],"tickSize":5,"offset":-5}},
"y":{"aggregate":"mean","field":"v","type":"quantitative","axis":{"orient":"right","title":null,"labels":false,"values":[0.1,0.2,0.3,0.4,0.6,0.7,0.8,0.9,1.1,1.2,1.3,1.4,1.6,1.7,1.8,1.9,2.1,2.2,2.3,2.4,2.6,2.7,2.8,2.9],"tickSize":5,"offset":-5}}
}}
],
"resolve":{"axis":{"x":"independent","y":"independent"}}
}
]
}
